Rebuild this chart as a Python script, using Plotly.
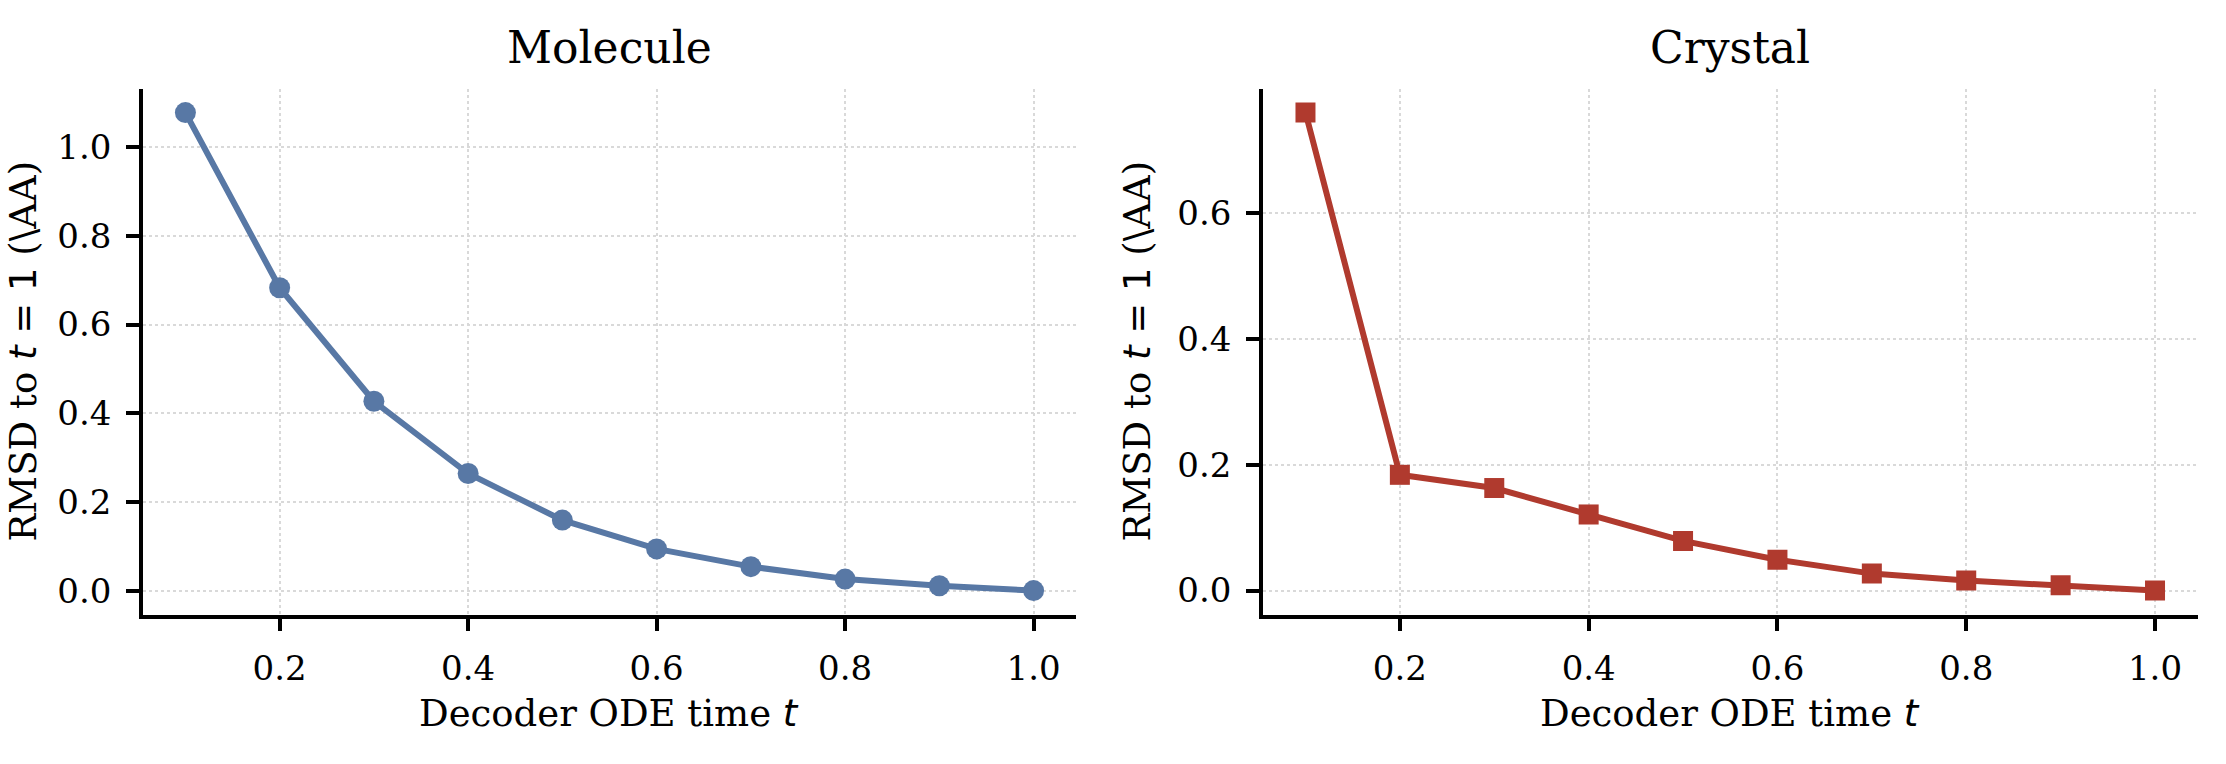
import plotly.graph_objects as go

# ---- data ----
t_values = [0.1, 0.2, 0.3, 0.4, 0.5, 0.6, 0.7, 0.8, 0.9, 1.0]
molecule_rmsd = [1.078, 0.683, 0.427, 0.264, 0.159, 0.094, 0.054, 0.026, 0.011, 0.0]
crystal_rmsd = [0.760, 0.184, 0.163, 0.121, 0.079, 0.049, 0.027, 0.016, 0.0085, 0.0]
x_ticks = [0.2, 0.4, 0.6, 0.8, 1.0]
mol_y_ticks = [0.0, 0.2, 0.4, 0.6, 0.8, 1.0]
cry_y_ticks = [0.0, 0.2, 0.4, 0.6]
titles = ["Molecule", "Crystal"]

W, H = 2226, 764
SERIF = "DejaVu Serif"
SANS = "DejaVu Sans"
BLUE = "#5878A5"
RED = "#B03A2E"

def px_x(v):
    return v / W

def px_y(v):
    return (H - v) / H

y_dom = [px_y(614.5), px_y(88.5)]
left_dom = [px_x(143), px_x(1076)]
right_dom = [px_x(1263), px_x(2197.5)]

fig = go.Figure()
fig.add_trace(go.Scatter(
    x=t_values, y=molecule_rmsd, mode="lines+markers",
    line=dict(color=BLUE, width=6),
    marker=dict(symbol="circle", size=21, color=BLUE),
    xaxis="x", yaxis="y", showlegend=False))
fig.add_trace(go.Scatter(
    x=t_values, y=crystal_rmsd, mode="lines+markers",
    line=dict(color=RED, width=6),
    marker=dict(symbol="square", size=20, color=RED),
    xaxis="x2", yaxis="y2", showlegend=False))

def xaxis_cfg(dom, anchor):
    return dict(domain=dom, anchor=anchor, range=[0.055, 1.045],
                tickvals=x_ticks, tickformat=".1f",
                showline=True, linecolor="black", linewidth=3.5, mirror=False,
                ticks="outside", ticklen=13, tickwidth=3.5, tickcolor="black",
                showgrid=True, gridcolor="#d9d9d9", gridwidth=2, griddash="dot",
                zeroline=False, ticklabelstandoff=8,
                tickfont=dict(family=SERIF, size=34, color="black"))

def yaxis_cfg(rng, ticks, anchor):
    return dict(domain=y_dom, anchor=anchor, range=rng,
                tickvals=ticks, tickformat=".1f",
                showline=True, linecolor="black", linewidth=3.5, mirror=False,
                ticks="outside", ticklen=13, tickwidth=3.5, tickcolor="black",
                showgrid=True, gridcolor="#d9d9d9", gridwidth=2, griddash="dot",
                zeroline=False, ticklabelstandoff=8,
                tickfont=dict(family=SERIF, size=34, color="black"))

fig.update_layout(
    width=W, height=H,
    margin=dict(l=0, r=0, t=0, b=0),
    paper_bgcolor="white", plot_bgcolor="white",
    xaxis=xaxis_cfg(left_dom, "y"),
    yaxis=yaxis_cfg([-0.0539, 1.1324], mol_y_ticks, "x"),
    xaxis2=xaxis_cfg(right_dom, "y2"),
    yaxis2=yaxis_cfg([-0.038, 0.798], cry_y_ticks, "x2"),
)

t_math = f"<span style=\"font-family:'{SANS}'\"><i>t</i></span>"
t_eq = f"<span style=\"font-family:'{SANS}'\"><i>t</i> = 1</span>"
xlabel = "Decoder ODE time " + t_math
ylabel = "RMSD to " + t_eq + " (\\AA)"

annotations = []
for dom, title, ylab_x in [(left_dom, titles[0], 23), (right_dom, titles[1], 1137)]:
    cx = (dom[0] + dom[1]) / 2
    annotations.append(dict(text=title, x=cx, y=px_y(47.5), xref="paper", yref="paper",
                            xanchor="center", yanchor="middle", showarrow=False,
                            font=dict(family=SERIF, size=44, color="black")))
    annotations.append(dict(text=xlabel, x=cx, y=px_y(713), xref="paper", yref="paper",
                            xanchor="center", yanchor="middle", showarrow=False,
                            font=dict(family=SERIF, size=37, color="black")))
    annotations.append(dict(text=ylabel, x=px_x(ylab_x), y=px_y(351.5), xref="paper", yref="paper",
                            xanchor="center", yanchor="middle", showarrow=False, textangle=-90,
                            borderpad=0,
                            font=dict(family=SERIF, size=37, color="black")))
fig.update_layout(annotations=annotations)

fig.write_html("out.html")
